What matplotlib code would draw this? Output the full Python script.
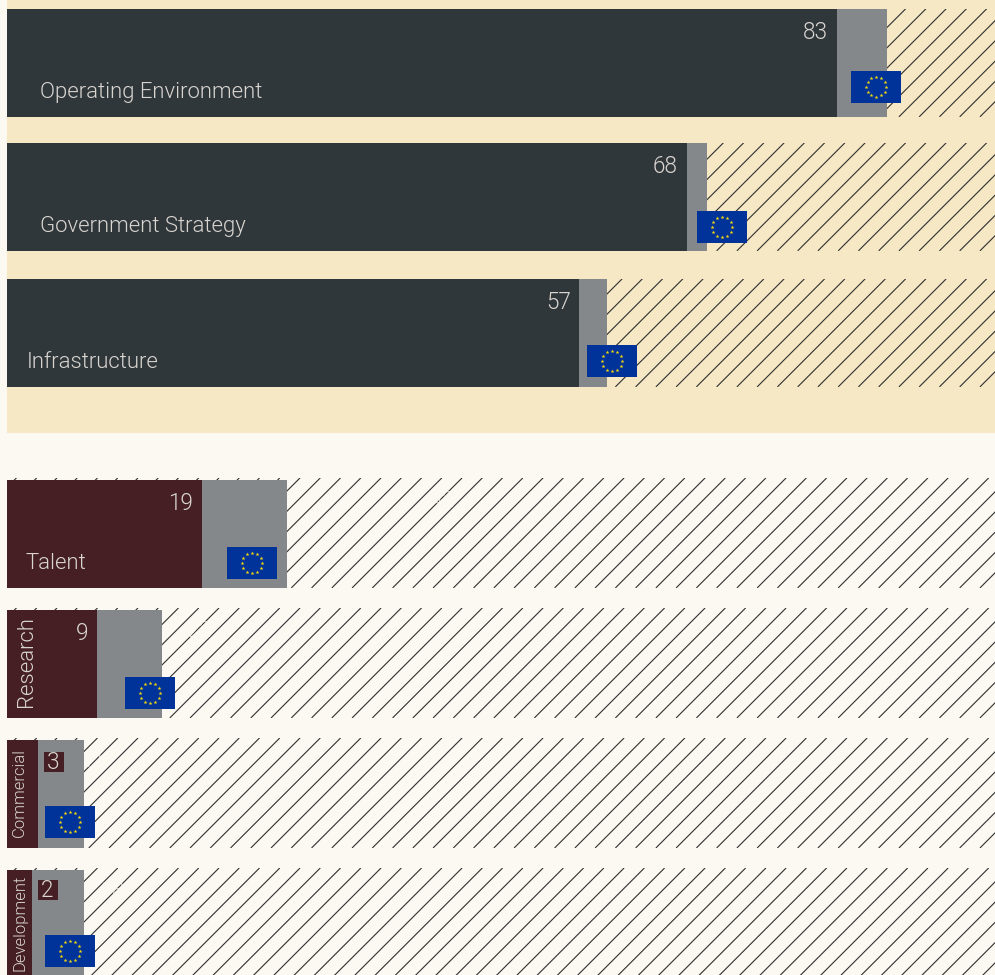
import numpy as np
import matplotlib
matplotlib.use("Agg")
import matplotlib.pyplot as plt
from matplotlib.collections import LineCollection
from matplotlib.patches import Rectangle

# datos
labels = ["Operating Environment", "Government Strategy", "Infrastructure",
          "Talent", "Research", "Commercial", "Development"]
scores = [83.0, 68.0, 57.2, 19.5, 9.0, 3.1, 2.5]
score_text = ["83", "68", "57", "19", "9", "3", "2"]
grey_end = [88.0, 70.0, 60.0, 28.0, 15.5, 7.7, 7.7]
eu_avg = [86.9, 71.5, 60.5, 24.5, 14.3, 6.3, 6.3]
# numeros casi invisibles que se adivinan sobre el rayado
ghost_text = ["", "", "", "42", "22", "11", "18"]
ghost_x = [0, 0, 0, 43.5, 19.3, 8.6, 10.5]

bar_tops = [9, 143, 279, 480, 610, 740, 870]
flag_tops = [71, 211, 345, 547, 677, 806, 935]
bar_colors = ["#30373a"] * 3 + ["#451f24"] * 4
hatch_extra = [0, 0, 0, 2, 2, 2, 2]
score_pad = [0.9, 0.95, 0.85, 0.9, 0.9, 0, 0]
label_x = [3.3, 3.3, 1.95, 1.85, 1.9, 1.25, 1.25]
label_y = [82, 82, 82, 82, 97, 97, 101]
label_size = [13.3, 13.3, 13.3, 13.3, 13.3, 10.0, 10.0]
box_y = [0, 0, 0, 0, 0, 12, 10]

CREAM = "#f6e8c4"
PALE = "#fcf9f3"
GREY = "#85888a"
TXT = "#d9d5d1"
BAR_H = 108
# rayado: cada 20.25 px, con la fase anclada al borde superior de cada fila
HATCH_STEP = 2.025
HATCH_START = 102.0

plt.rcParams["font.family"] = ["Roboto", "DejaVu Sans"]

fig = plt.figure(figsize=(995.2 / 120, 975.2 / 120), dpi=120, facecolor=PALE)
ax = fig.add_axes([0, 0, 1, 1])
# eje x en puntos (10 px = 1 punto, origen en x=7), eje y en px
ax.set_xlim(-0.7, 98.8)
ax.set_ylim(975, 0)
ax.axis("off")

# fondos
ax.add_patch(Rectangle((0, 0), 98.8, 433, fc=CREAM, ec="none", zorder=0))

for i, name in enumerate(labels):
    top = bar_tops[i]
    extra = hatch_extra[i]

    # rayado de fondo
    clip = Rectangle((0, top - extra), 98.8, BAR_H + extra, transform=ax.transData)
    segs = [[(c + extra / 10, top - extra), (c - BAR_H / 10, top + BAR_H)]
            for c in HATCH_START - HATCH_STEP * np.arange(-6, 52)]
    lines = LineCollection(segs, colors="#333333", linewidths=0.68, zorder=1)
    ax.add_collection(lines)
    lines.set_clip_path(clip)

    ax.barh(top, grey_end[i], height=BAR_H, align="edge", color=GREY, zorder=2)
    ax.barh(top, scores[i], height=BAR_H, align="edge", color=bar_colors[i], zorder=3)

    if ghost_text[i]:
        ax.text(ghost_x[i], top + 21, ghost_text[i], color=PALE, alpha=0.7, fontsize=13,
                fontweight=300, ha="center", va="center", zorder=1.5)

    # bandera UE
    fy = flag_tops[i]
    ax.add_patch(Rectangle((eu_avg[i] - 2.5, fy), 5, 32, fc="#00339a", ec="none", zorder=4))
    ang = np.radians(np.arange(0, 360, 30))
    ax.scatter(eu_avg[i] + 1.0 * np.cos(ang), fy + 16 + 10 * np.sin(ang), s=6,
               marker="*", color="#f5d90a", linewidths=0, zorder=5)

    # valor
    if scores[i] < 5:
        ax.add_patch(Rectangle((scores[i] + 0.55, top + box_y[i]), 2, 20,
                               fc=bar_colors[i], ec="none", zorder=5))
        ax.text(scores[i] + 1.55, top + box_y[i] + 10.5, score_text[i], color=TXT,
                fontsize=13.5, fontweight=300, ha="center", va="center", zorder=6)
    else:
        ax.text(scores[i] - score_pad[i], top + 23, score_text[i], color=TXT, fontsize=13.5,
                fontweight=300, ha="right", va="center", zorder=6)

    # nombre
    if i >= 4:
        ax.text(label_x[i], top + label_y[i], name, color=TXT, fontsize=label_size[i],
                fontweight=300, rotation=90, ha="center", va="bottom", zorder=6)
    else:
        ax.text(label_x[i], top + label_y[i] + 1.5, name, color=TXT, fontsize=label_size[i],
                fontweight=300, ha="left", va="center", zorder=6)

fig.savefig("out.png", dpi=120, facecolor=PALE)
